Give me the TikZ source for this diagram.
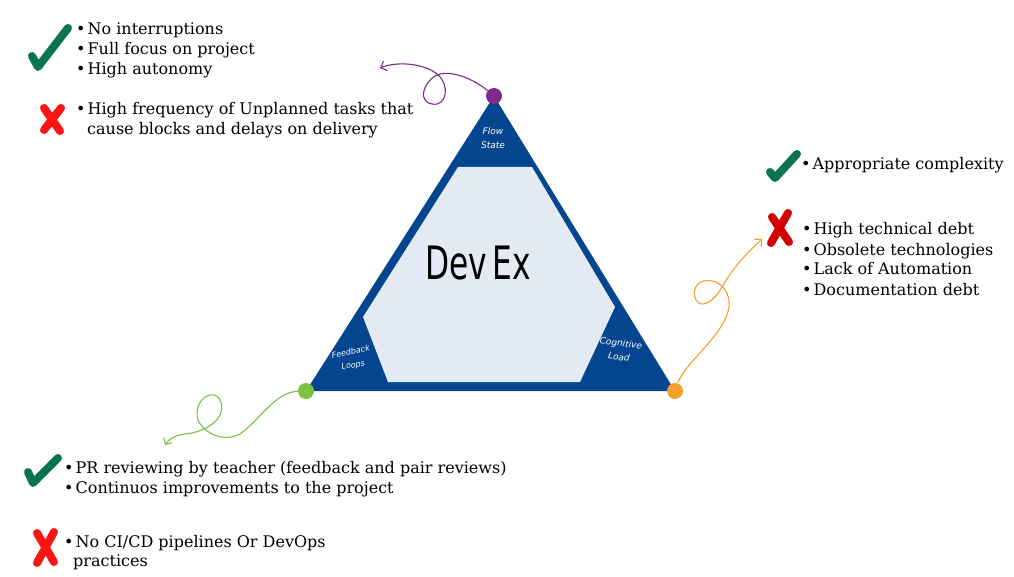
\documentclass[tikz,border=0pt]{standalone}
\usepackage{fontspec}
\setmainfont{DejaVu Serif}
\newfontfamily\handfont{DejaVu Sans}
\usetikzlibrary{arrows.meta, positioning}
\definecolor{triblue}{HTML}{03468F}
\definecolor{triface}{HTML}{E4EAF3}
\definecolor{okgreen}{HTML}{087450}
\definecolor{nored}{HTML}{FF1212}
\definecolor{nodark}{HTML}{D20000}
\definecolor{flowpurple}{HTML}{7E2B8C}
\definecolor{loopgreen}{HTML}{7CC142}
\definecolor{loadorange}{HTML}{F6A02B}
\tikzset{
    listitem/.style={
        anchor=base west, inner sep=0pt, font=\fontsize{16}{20}\selectfont
    },
    cornerdot/.style={
        circle, inner sep=0pt, minimum size=16pt
    },
    cornertext/.style={
        text=white, align=center, inner sep=0pt,
        font=\handfont\itshape\fontsize{9}{14}\selectfont
    },
    tick/.style={
        draw=okgreen, line width=8pt, line cap=round, line join=round
    },
    cross/.style={
        line width=8pt, line cap=round
    },
    squiggle/.style={
        line width=1.1pt, -{Straight Barb[length=5pt, width=10pt]}
    }
}
\newcommand{\bul}{\textbullet\hspace{2pt}}

\begin{document}
\begin{tikzpicture}[x=1pt, y=-1pt]

    \useasboundingbox (0,0) rectangle (1014,577);

    % the triangle
    \coordinate (apex)  at (494,96);
    \coordinate (lbase) at (306,391);
    \coordinate (rbase) at (675,391);
    \fill[triblue] (apex) -- (lbase) -- (rbase) -- cycle;
    \fill[triface] (458,167) -- (532,167) -- (615,307) -- (580,382)
                   -- (388,382) -- (363,317) -- cycle;

    \node[font=\handfont\fontsize{46}{46}\selectfont, xscale=0.68] (devex) at (478,263) {Dev\,Ex};

    \node[cornertext]              (flowlbl) at (493,138) {Flow\\State};
    \node[cornertext, rotate=11, font=\handfont\itshape\fontsize{8}{13}\selectfont]
                                   (looplbl) at (352,359) {Feedback\\Loops};
    \node[cornertext, rotate=-8]   (loadlbl) at (620,350) {Cognitive\\Load};

    \node[cornerdot, fill=flowpurple] (flowdot) at (apex)  {};
    \node[cornerdot, fill=loopgreen]  (loopdot) at (lbase) {};
    \node[cornerdot, fill=loadorange] (loaddot) at (rbase) {};

    \coordinate (flowtip) at (380,68);
    \coordinate (looptip) at (165,445);
    \coordinate (loadtip) at (762,239);

    \draw[squiggle, flowpurple] (flowdot) .. controls (475,80) and (450,68) .. (435,76)
        .. controls (424,83) and (417,101) .. (432,104)
        .. controls (447,107) and (450,85) .. (438,75)
        .. controls (428,65) and (400,60) .. (flowtip);
    \draw[squiggle, loopgreen] (loopdot) .. controls (275,392) and (260,420) .. (240,434)
        .. controls (225,442) and (205,435) .. (198,420)
        .. controls (192,400) and (215,385) .. (221,402)
        .. controls (226,420) and (205,432) .. (185,434)
        .. controls (175,435) and (168,440) .. (looptip);
    \draw[squiggle, loadorange] (loaddot) .. controls (685,362) and (725,335) .. (729,307)
        .. controls (731,295) and (722,282) .. (712,281)
        .. controls (700,278) and (690,288) .. (696,300)
        .. controls (702,310) and (715,300) .. (722,287)
        .. controls (735,265) and (748,252) .. (loadtip);

    % flow state
    \draw[tick] (32,56) -- (38,67) -- (68,28);
    \node[listitem] (flowa) at (76,35)  {\bul No interruptions};
    \node[listitem] (flowb) at (76,55)  {\bul Full focus on project};
    \node[listitem] (flowc) at (76,75)  {\bul High autonomy};
    \draw[cross, nored] (44,108) -- (60,131) (61,108) -- (44,130);
    \node[listitem] (flowd) at (76,115) {\bul High frequency of Unplanned tasks that};
    \node[listitem] (flowe) at (87,135) {cause blocks and delays on delivery};

    % cognitive load
    \draw[tick] (770,172) -- (775,178) -- (797,154);
    \node[listitem] (loada) at (801,170) {\bul Appropriate complexity};
    \draw[cross, nodark] (772,217) -- (789,242) (788,213) -- (771,243);
    \node[listitem] (loadb) at (802,235) {\bul High technical debt};
    \node[listitem] (loadc) at (802,255) {\bul Obsolete technologies};
    \node[listitem] (loadd) at (802,275) {\bul Lack of Automation};
    \node[listitem] (loade) at (802,295) {\bul Documentation debt};

    % feedback loops
    \draw[tick] (28,472) -- (33,483) -- (58,458);
    \node[listitem] (loopa) at (64,473) {\bul PR reviewing by teacher (feedback and pair reviews)};
    \node[listitem] (loopb) at (64,493) {\bul Continuos improvements to the project};
    \draw[cross, nored] (37,533) -- (54,562) (54,532) -- (37,563);
    \node[listitem] (loopc) at (64,547) {\bul No CI/CD pipelines Or DevOps};
    \node[listitem] (loopd) at (73,566) {practices};

\end{tikzpicture}
\end{document}
